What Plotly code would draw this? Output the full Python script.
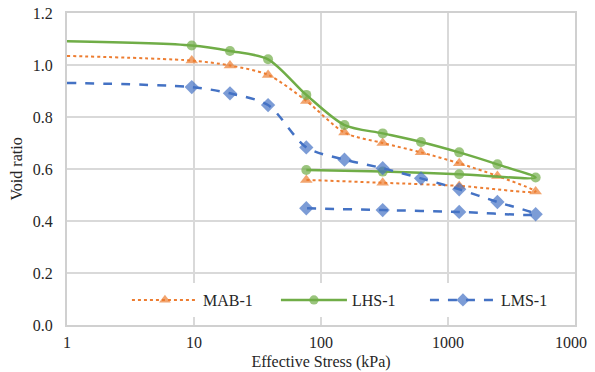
import plotly.graph_objects as go

# Effective stress (kPa): loading then unloading
stress = [1, 9.6, 19.2, 38.3, 76.6, 153, 306, 613, 1225, 2450, 4900, 1225, 306, 76.6]

mab1 = [1.035, 1.017, 0.998, 0.962, 0.862, 0.740, 0.700, 0.664, 0.622, 0.573, 0.513, 0.535, 0.547, 0.558]
lhs1 = [1.091, 1.075, 1.054, 1.022, 0.885, 0.769, 0.737, 0.704, 0.664, 0.618, 0.567, 0.580, 0.590, 0.596]
lms1 = [0.931, 0.915, 0.891, 0.846, 0.683, 0.636, 0.603, 0.564, 0.522, 0.473, 0.426, 0.435, 0.442, 0.449]

x_tickvals = [1, 10, 100, 1000, 10000]
x_ticktext = ["1", "10", "100", "1000", "10000"]
y_tickvals = [0.0, 0.2, 0.4, 0.6, 0.8, 1.0, 1.2]
y_ticktext = ["0.0", "0.2", "0.4", "0.6", "0.8", "1.0", "1.2"]


def sizes(s):
    return [0] + [s] * (len(stress) - 1)


fig = go.Figure()
fig.add_trace(go.Scatter(
    x=stress, y=mab1, name="MAB-1", mode="lines+markers",
    line=dict(color="#ED7D31", width=2, dash="dot", shape="spline", smoothing=0.8),
    marker=dict(symbol="triangle-up", size=sizes(11), color="#ED7D31",
                line=dict(width=0)),
    cliponaxis=False,
))
fig.add_trace(go.Scatter(
    x=stress, y=lhs1, name="LHS-1", mode="lines+markers",
    line=dict(color="#70AD47", width=2.5, shape="spline", smoothing=0.8),
    marker=dict(symbol="circle", size=sizes(10), color="#70AD47",
                line=dict(width=0)),
    cliponaxis=False,
))
fig.add_trace(go.Scatter(
    x=stress, y=lms1, name="LMS-1", mode="lines+markers",
    line=dict(color="#4472C4", width=2.5, dash="dash", shape="spline", smoothing=0.8),
    marker=dict(symbol="diamond", size=sizes(11), color="#4472C4",
                line=dict(width=0)),
    cliponaxis=False,
))

font_family = "Liberation Serif, Times New Roman, serif"
text_color = "#262626"

# page body adds an 8px offset; figure size/margins compensate for it
fig.update_layout(
    width=587, height=364,
    margin=dict(l=59, r=20, t=5, b=47),
    paper_bgcolor="white", plot_bgcolor="white",
    font=dict(family=font_family, size=16, color=text_color),
    showlegend=True,
    legend=dict(
        orientation="h", x=0.118, y=0.08, xanchor="left", yanchor="middle",
        bgcolor="white", font=dict(family=font_family, size=16, color=text_color),
        itemwidth=66, entrywidth=68,
    ),
    xaxis=dict(
        type="log", range=[0, 4], automargin=False,
        tickvals=x_tickvals, ticktext=x_ticktext,
        showgrid=True, gridcolor="#d9d9d9", gridwidth=1.5,
        showline=True, linecolor="#d0d0d0", linewidth=2, mirror=True,
        ticks="", zeroline=False, ticklabeloverflow="allow", ticklabelstandoff=2,
        title=dict(text="Effective Stress (kPa)", font=dict(family=font_family, size=16), standoff=6),
        tickfont=dict(family=font_family, size=16),
    ),
    yaxis=dict(
        range=[0, 1.2], automargin=False,
        tickvals=y_tickvals, ticktext=y_ticktext,
        showgrid=True, gridcolor="#d9d9d9", gridwidth=1.5,
        showline=True, linecolor="#d0d0d0", linewidth=2, mirror=True,
        ticks="", zeroline=False, ticklabeloverflow="allow", ticklabelstandoff=9,
        title=dict(text="Void ratio", font=dict(family=font_family, size=16), standoff=12),
        tickfont=dict(family=font_family, size=16),
    ),
)

fig.write_html("out.html")
